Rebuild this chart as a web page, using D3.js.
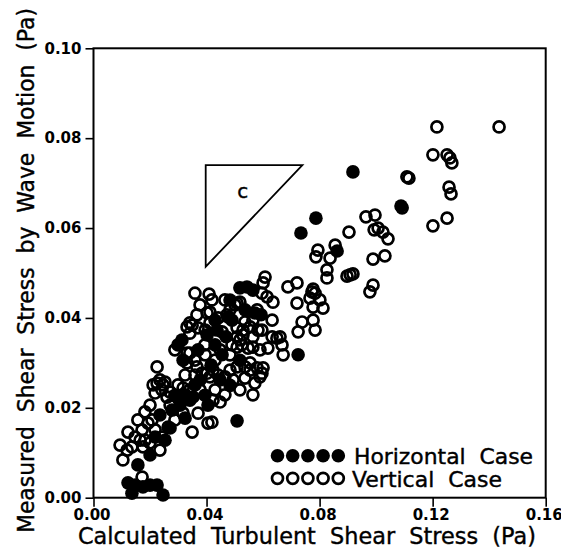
<!DOCTYPE html>
<html>
<head>
<meta charset="utf-8">
<script src="https://cdn.jsdelivr.net/npm/d3@7"></script>
<style>
  body { margin: 0; background: #fff; }
  svg { display: block; }
  text { font-family: "DejaVu Sans", sans-serif; fill: #000; }
</style>
</head>
<body>
<div id="chart"></div>
<script>
// Measured vs calculated shear stress (Pa), [calculated, measured]
const horizontalCase = [
  [0.0918, 0.0725], [0.0787, 0.0622], [0.0734, 0.0589], [0.0862, 0.0549],
  [0.1088, 0.0649], [0.0724, 0.0318], [0.0508, 0.0171], [0.0122, 0.0033],
  [0.0147, 0.0028], [0.0175, 0.0024], [0.0200, 0.0028], [0.0225, 0.0028],
  [0.0246, 0.0006], [0.0136, 0.0010], [0.0518, 0.0467], [0.0543, 0.0469],
  [0.0564, 0.0462], [0.0571, 0.0411], [0.0490, 0.0395], [0.0313, 0.0351],
  [0.0299, 0.0340], [0.0593, 0.0407], [0.0476, 0.0402], [0.0469, 0.0358],
  [0.0416, 0.0295], [0.0377, 0.0262], [0.0341, 0.0217], [0.0306, 0.0206],
  [0.0278, 0.0195], [0.0394, 0.0228], [0.0455, 0.0318], [0.0430, 0.0340],
  [0.0324, 0.0177], [0.0235, 0.0184], [0.0370, 0.0329], [0.0483, 0.0250],
  [0.0288, 0.0228], [0.0200, 0.0095], [0.0157, 0.0073], [0.0253, 0.0128],
  [0.0352, 0.0224], [0.0405, 0.0206], [0.0437, 0.0373], [0.0536, 0.0418],
  [0.0430, 0.0395], [0.0402, 0.0362], [0.0359, 0.0251], [0.0324, 0.0229],
  [0.0448, 0.0262], [0.0271, 0.0155], [0.0218, 0.0135], [0.0518, 0.0306],
  [0.0317, 0.0306], [0.0483, 0.0440]
];

const verticalCase = [
  [0.1215, 0.0825], [0.1435, 0.0825], [0.1201, 0.0763], [0.1251, 0.0763],
  [0.1261, 0.0756], [0.1268, 0.0745], [0.1109, 0.0714], [0.1116, 0.0711],
  [0.1258, 0.0691], [0.1265, 0.0676], [0.1092, 0.0645], [0.1201, 0.0605],
  [0.1251, 0.0622], [0.0964, 0.0625], [0.0996, 0.0629], [0.0993, 0.0596],
  [0.1007, 0.0600], [0.1024, 0.0591], [0.1042, 0.0576], [0.0904, 0.0591],
  [0.0989, 0.0531], [0.1031, 0.0538], [0.0794, 0.0551], [0.0787, 0.0536],
  [0.0837, 0.0533], [0.0855, 0.0562], [0.0826, 0.0507], [0.0826, 0.0489],
  [0.0897, 0.0493], [0.0908, 0.0496], [0.0918, 0.0498], [0.0989, 0.0473],
  [0.0978, 0.0458], [0.0607, 0.0491], [0.0600, 0.0478], [0.0720, 0.0478],
  [0.0688, 0.0469], [0.0777, 0.0464], [0.0596, 0.0455], [0.0614, 0.0447],
  [0.0635, 0.0435], [0.0773, 0.0458], [0.0784, 0.0455], [0.0766, 0.0444],
  [0.0801, 0.0440], [0.0720, 0.0433], [0.0812, 0.0422], [0.0777, 0.0424],
  [0.0738, 0.0391], [0.0777, 0.0395], [0.0724, 0.0369], [0.0784, 0.0373],
  [0.0579, 0.0418], [0.0564, 0.0395], [0.0632, 0.0395], [0.0582, 0.0373],
  [0.0564, 0.0358], [0.0632, 0.0358], [0.0649, 0.0355], [0.0660, 0.0358],
  [0.0617, 0.0333], [0.0667, 0.0340], [0.0671, 0.0318], [0.0564, 0.0335],
  [0.0589, 0.0329], [0.0600, 0.0289], [0.0589, 0.0269], [0.0571, 0.0255],
  [0.0564, 0.0229], [0.0554, 0.0300], [0.0508, 0.0433], [0.0518, 0.0435],
  [0.0508, 0.0378], [0.0529, 0.0373], [0.0554, 0.0380], [0.0508, 0.0335],
  [0.0525, 0.0340], [0.0547, 0.0333], [0.0508, 0.0291], [0.0536, 0.0291],
  [0.0554, 0.0284], [0.0579, 0.0289], [0.0596, 0.0277], [0.0359, 0.0455],
  [0.0409, 0.0453], [0.0366, 0.0407], [0.0412, 0.0413], [0.0412, 0.0389],
  [0.0370, 0.0378], [0.0341, 0.0389], [0.0483, 0.0418], [0.0501, 0.0429],
  [0.0472, 0.0407], [0.0518, 0.0351], [0.0341, 0.0322], [0.0331, 0.0300],
  [0.0225, 0.0291], [0.0235, 0.0262], [0.0211, 0.0251], [0.0366, 0.0291],
  [0.0402, 0.0277], [0.0423, 0.0284], [0.0483, 0.0284], [0.0465, 0.0269],
  [0.0494, 0.0262], [0.0253, 0.0257], [0.0242, 0.0240], [0.0260, 0.0224],
  [0.0317, 0.0244], [0.0341, 0.0240], [0.0359, 0.0273], [0.0384, 0.0277],
  [0.0412, 0.0269], [0.0441, 0.0273], [0.0419, 0.0168], [0.0405, 0.0166],
  [0.0349, 0.0146], [0.0370, 0.0188], [0.0423, 0.0217], [0.0448, 0.0213],
  [0.0430, 0.0240], [0.0317, 0.0188], [0.0288, 0.0173], [0.0264, 0.0157],
  [0.0242, 0.0135], [0.0193, 0.0166], [0.0218, 0.0151], [0.0207, 0.0173],
  [0.0172, 0.0151], [0.0147, 0.0135], [0.0136, 0.0113], [0.0119, 0.0106],
  [0.0104, 0.0084], [0.0182, 0.0128], [0.0200, 0.0122], [0.0172, 0.0046],
  [0.0225, 0.0255], [0.0246, 0.0251], [0.0218, 0.0233], [0.0331, 0.0380],
  [0.0341, 0.0366], [0.0349, 0.0384], [0.0331, 0.0322], [0.0359, 0.0306],
  [0.0175, 0.0113], [0.0165, 0.0128], [0.0508, 0.0358], [0.0529, 0.0362],
  [0.0402, 0.0411], [0.0394, 0.0340], [0.0448, 0.0329], [0.0271, 0.0206],
  [0.0299, 0.0222], [0.0483, 0.0318], [0.0288, 0.0329], [0.0395, 0.0373],
  [0.0441, 0.0400], [0.0465, 0.0440], [0.0419, 0.0440], [0.0377, 0.0429],
  [0.0455, 0.0369], [0.0490, 0.0340], [0.0377, 0.0240], [0.0324, 0.0273],
  [0.0299, 0.0251], [0.0271, 0.0235], [0.0200, 0.0206], [0.0182, 0.0191],
  [0.0157, 0.0173], [0.0122, 0.0146], [0.0094, 0.0117], [0.0235, 0.0106],
  [0.0465, 0.0229], [0.0518, 0.0240], [0.0536, 0.0266], [0.0430, 0.0306],
  [0.0395, 0.0318], [0.0536, 0.0391], [0.0596, 0.0373]
];

// Tick values
const xTicks = [0, 0.04, 0.08, 0.12, 0.16];
const yTicks = [0, 0.02, 0.04, 0.06, 0.08, 0.10];

// Wedge annotation "c" (triangle corners and label position)
const wedgeCorners = [[0.0397, 0.0740], [0.0739, 0.0740], [0.0397, 0.0514]];
const wedgeLabel = { text: "c", at: [0.0528, 0.0667] };

const legendItems = ["Horizontal  Case", "Vertical  Case"];

const width = 561;
const height = 549;
const margin = { top: 48.3, right: 15.3, bottom: 51.3, left: 93.5 };

const svg = d3.select("#chart")
  .append("svg")
  .attr("width", width)
  .attr("height", height);

const x = d3.scaleLinear()
  .domain([0, 0.16])
  .range([margin.left, width - margin.right]);

const y = d3.scaleLinear()
  .domain([0, 0.10])
  .range([height - margin.bottom, margin.top]);

// Frame
svg.append("rect")
  .attr("x", x(0))
  .attr("y", y(0.10))
  .attr("width", x(0.16) - x(0))
  .attr("height", y(0) - y(0.10))
  .attr("fill", "none")
  .attr("stroke", "#000")
  .attr("stroke-width", 2);

// Axes
const fmt = d3.format(".2f");

const xAxis = svg.append("g")
  .attr("transform", `translate(0,${y(0)})`)
  .call(d3.axisBottom(x).tickValues(xTicks).tickFormat(fmt).tickSize(9).tickPadding(3));

const yAxis = svg.append("g")
  .attr("transform", `translate(${x(0)},0)`)
  .call(d3.axisLeft(y).tickValues(yTicks).tickFormat(fmt).tickSize(8).tickPadding(4));

[xAxis, yAxis].forEach((g) => {
  g.select(".domain").remove();
  g.selectAll(".tick line").attr("stroke", "#000").attr("stroke-width", 1.6);
  g.selectAll(".tick text")
    .attr("fill", "#000")
    .style("font-family", "'DejaVu Sans', sans-serif")
    .style("font-size", "15px")
    .style("font-weight", "bold");
});
xAxis.selectAll(".tick text").attr("dx", "-2");

// Axis titles
svg.append("text")
  .attr("x", 78)
  .attr("y", 544)
  .attr("textLength", 458)
  .attr("lengthAdjust", "spacingAndGlyphs")
  .attr("stroke", "#000")
  .attr("stroke-width", 0.4)
  .style("font-size", "23px")
  .style("white-space", "pre")
  .text("Calculated  Turbulent  Shear  Stress  (Pa)");

svg.append("text")
  .attr("transform", "translate(34,533) rotate(-90)")
  .attr("textLength", 525)
  .attr("lengthAdjust", "spacingAndGlyphs")
  .attr("stroke", "#000")
  .attr("stroke-width", 0.4)
  .style("font-size", "23px")
  .style("white-space", "pre")
  .text("Measured  Shear  Stress  by  Wave  Motion  (Pa)");

// Wedge annotation
svg.append("path")
  .attr("d", d3.line().x((d) => x(d[0])).y((d) => y(d[1]))(wedgeCorners) + "Z")
  .attr("fill", "none")
  .attr("stroke", "#000")
  .attr("stroke-width", 1.8);

svg.append("text")
  .attr("x", x(wedgeLabel.at[0]))
  .attr("y", y(wedgeLabel.at[1]))
  .attr("text-anchor", "middle")
  .attr("stroke", "#000")
  .attr("stroke-width", 0.4)
  .style("font-size", "20px")
  .text(wedgeLabel.text);

// Markers: open circles first, filled on top
svg.append("g")
  .selectAll("circle")
  .data(verticalCase)
  .join("circle")
  .attr("cx", (d) => x(d[0]))
  .attr("cy", (d) => y(d[1]))
  .attr("r", 5.5)
  .attr("fill", "none")
  .attr("stroke", "#000")
  .attr("stroke-width", 2.7);

svg.append("g")
  .selectAll("circle")
  .data(horizontalCase)
  .join("circle")
  .attr("cx", (d) => x(d[0]))
  .attr("cy", (d) => y(d[1]))
  .attr("r", 6.8)
  .attr("fill", "#000");

// Legend
const legend = svg.append("g");
const legendRows = [
  { label: legendItems[0], filled: true, cy: 455.7, base: 464, tx: 354, tl: 179 },
  { label: legendItems[1], filled: false, cy: 478.3, base: 487, tx: 352, tl: 150 }
];
legendRows.forEach((row) => {
  d3.range(5).forEach((i) => {
    legend.append("circle")
      .attr("cx", 277.5 + i * 15.2)
      .attr("cy", row.cy)
      .attr("r", row.filled ? 6.8 : 5.5)
      .attr("fill", row.filled ? "#000" : "none")
      .attr("stroke", row.filled ? "none" : "#000")
      .attr("stroke-width", 2.7);
  });
  legend.append("text")
    .attr("x", row.tx)
    .attr("y", row.base)
    .attr("textLength", row.tl)
    .attr("lengthAdjust", "spacingAndGlyphs")
    .attr("stroke", "#000")
    .attr("stroke-width", 0.4)
    .style("font-size", "21px")
    .style("white-space", "pre")
    .text(row.label);
});
</script>
</body>
</html>
